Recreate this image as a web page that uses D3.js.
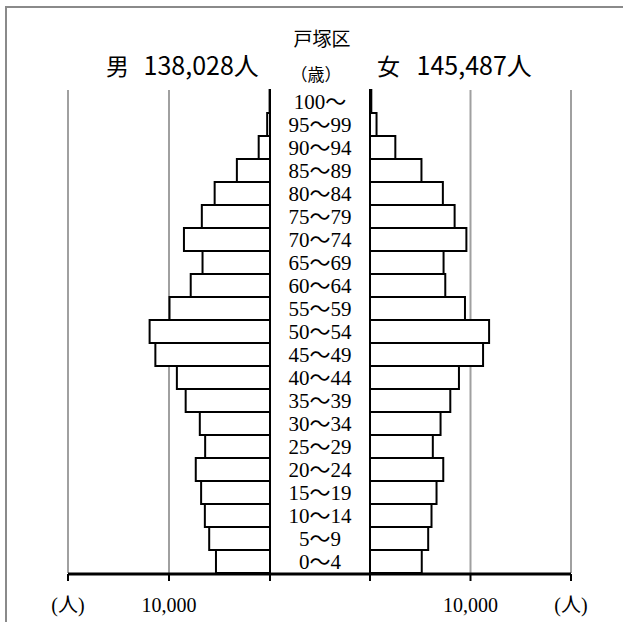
<!DOCTYPE html>
<html><head><meta charset="utf-8">
<script src="https://cdn.jsdelivr.net/npm/d3@7"></script>
<style>body{margin:0;background:#fff}</style>
</head><body>
<script>
const ages = ["0～4","5～9","10～14","15～19","20～24","25～29","30～34","35～39","40～44","45～49","50～54","55～59","60～64","65～69","70～74","75～79","80～84","85～89","90～94","95～99","100～"];
const male = [5350,6020,6450,6820,7350,6420,6950,8350,9220,11350,11920,9950,7850,6680,8520,6750,5480,3280,1120,280,40];
const female = [5150,5790,6120,6620,7290,6250,7020,7990,8850,11250,11850,9450,7490,7320,9590,8420,7250,5120,2520,650,130];
const title = "戸塚区";
const sexNames = ["男","女"];
const totals = ["138,028人","145,487人"];
const ageUnit = "（歳）";
const gridVals = [0,10000,20000];
const tickLabels = ["(人)","10,000",""];

(function(){
const W=623,H=622;
const svg=d3.select("body").append("svg").attr("width",W).attr("height",H);
const sans="'Noto Sans CJK JP','Noto Sans',sans-serif";
const serif="'Liberation Serif','DejaVu Serif','Noto Sans CJK JP',serif";

svg.append("path").attr("d","M6,622V7H623").attr("fill","none").attr("stroke","#8a8a8a").attr("stroke-width",2);

const pTop=90,pBottom=573;
const y=d3.scaleBand().domain(d3.range(ages.length).reverse()).range([pTop,pBottom]).padding(0);
const xl=d3.scaleLinear().domain([0,20000]).range([270,68]);
const xr=d3.scaleLinear().domain([0,20000]).range([370,571]);

[xl,xr].forEach(s=>{
  svg.selectAll(null).data(gridVals.slice(1)).enter().append("line")
    .attr("x1",d=>s(d)).attr("x2",d=>s(d)).attr("y1",pTop).attr("y2",pBottom)
    .attr("stroke","#a0a0a0").attr("stroke-width",2);
});

svg.selectAll(null).data(male).enter().append("rect")
  .attr("x",d=>xl(d)).attr("width",d=>xl(0)-xl(d))
  .attr("y",(d,i)=>y(i)).attr("height",y.bandwidth())
  .attr("fill","#fff").attr("stroke","#000").attr("stroke-width",2);
svg.selectAll(null).data(female).enter().append("rect")
  .attr("x",xr(0)).attr("width",d=>xr(d)-xr(0))
  .attr("y",(d,i)=>y(i)).attr("height",y.bandwidth())
  .attr("fill","#fff").attr("stroke","#000").attr("stroke-width",2);

[xl(0),xr(0)].forEach(x=>{
  svg.append("line").attr("x1",x).attr("x2",x).attr("y1",pTop).attr("y2",pBottom)
    .attr("stroke","#000").attr("stroke-width",2);
});

svg.append("line").attr("x1",xl(20000)).attr("x2",xr(20000)).attr("y1",574).attr("y2",574)
  .attr("stroke","#000").attr("stroke-width",3);
[xl,xr].forEach(s=>{
  svg.selectAll(null).data(gridVals).enter().append("line")
    .attr("x1",d=>s(d)).attr("x2",d=>s(d)).attr("y1",574).attr("y2",581)
    .attr("stroke","#000").attr("stroke-width",2);
});
const tlabs=[[xl(20000),tickLabels[0]],[xl(10000),tickLabels[1]],[xr(10000),tickLabels[1]],[xr(20000),tickLabels[0]]];
svg.selectAll(null).data(tlabs).enter().append("text")
  .attr("x",d=>d[0]).attr("y",612).attr("text-anchor","middle")
  .attr("font-family",serif).attr("font-size",20).attr("fill","#000").text(d=>d[1]);

svg.selectAll(null).data(ages).enter().append("text")
  .attr("x",320).attr("y",(d,i)=>y(i)+y.bandwidth()/2+7)
  .attr("text-anchor","middle").attr("font-family",serif).attr("font-size",21)
  .attr("fill","#000").text(d=>d);

svg.append("text").attr("x",322).attr("y",46).attr("text-anchor","middle")
  .attr("font-family",sans).attr("font-size",19).attr("fill","#000").text(title);

const hdr=[[106,144],[377,417]];
hdr.forEach((p,i)=>{
  const t=svg.append("text").attr("y",75).attr("font-family",sans).attr("fill","#000");
  t.append("tspan").attr("x",p[0]).attr("font-size",23).text(sexNames[i]);
  t.append("tspan").attr("x",p[1]).attr("font-size",25).text(" "+totals[i]).attr("x",p[1]-6);
});

svg.append("text").attr("x",316).attr("y",81).attr("text-anchor","middle")
  .attr("font-family",sans).attr("font-size",17).attr("fill","#000").text(ageUnit);
})();
</script>
</body></html>
